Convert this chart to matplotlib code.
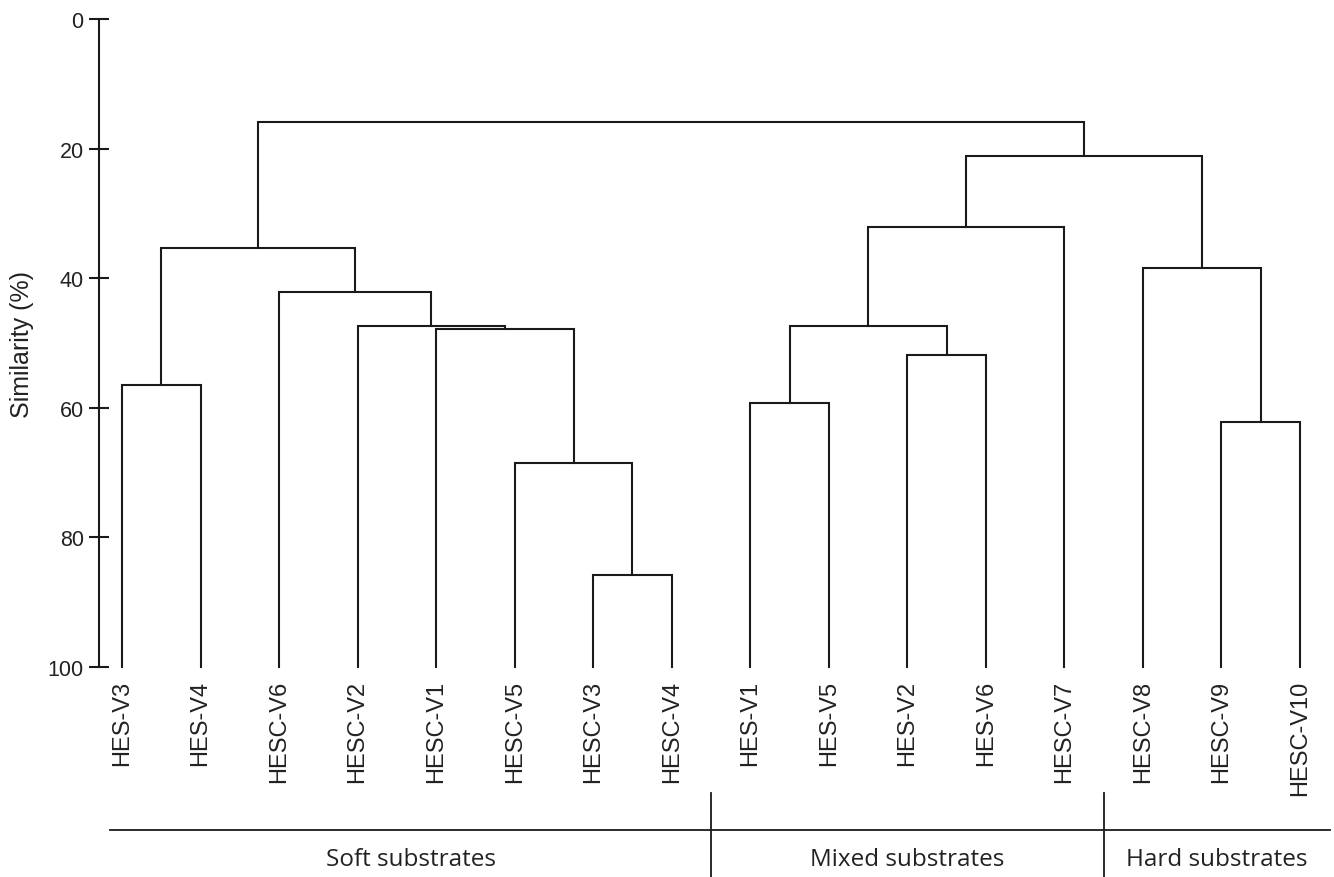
import matplotlib
matplotlib.use("Agg")
import matplotlib.pyplot as plt
import matplotlib.transforms as mtransforms

# leaf samples in dendrogram order
LEAVES = [
    "HES-V3", "HES-V4", "HESC-V6", "HESC-V2", "HESC-V1", "HESC-V5",
    "HESC-V3", "HESC-V4", "HES-V1", "HES-V5", "HES-V2", "HES-V6",
    "HESC-V7", "HESC-V8", "HESC-V9", "HESC-V10",
]

# merges: (child a, child b, similarity %); new nodes are numbered from 16 up
MERGE_A = [6, 5, 4, 3, 2, 0, 21, 8, 10, 23, 25, 14, 13, 26, 22]
MERGE_B = [7, 16, 17, 18, 19, 1, 20, 9, 11, 24, 12, 15, 27, 28, 29]
MERGE_SIM = [85.8, 68.5, 47.8, 47.4, 42.1, 56.5, 35.3, 59.3, 51.9, 47.4,
             32.1, 62.2, 38.4, 21.2, 15.9]

GROUPS = ["Soft substrates", "Mixed substrates", "Hard substrates"]
GROUP_EDGES = [-0.15, 7.5, 12.5, 15.38]

LINE = "#1a1a1a"
TEXT = "#222222"

W, H = 1334, 878
fig = plt.figure(figsize=(W / 100, H / 100), dpi=100)
fig.patch.set_facecolor("white")

spacing = 78.53
ax_left, ax_top, ax_bottom = 99, 20, 668
ax_right = 1330
ax = fig.add_axes([ax_left / W, 1 - ax_bottom / H,
                   (ax_right - ax_left) / W, (ax_bottom - ax_top) / H])
x_lo = -(122 - ax_left) / spacing
x_hi = 15 + (ax_right - 1300) / spacing
ax.set_xlim(x_lo, x_hi)
ax.set_ylim(100, 0)

# build the tree from the merge list
n = len(LEAVES)
pos = {i: float(i) for i in range(n)}
height = {i: 100.0 for i in range(n)}
for k, (a, b, h) in enumerate(zip(MERGE_A, MERGE_B, MERGE_SIM)):
    xa, xb = pos[a], pos[b]
    ax.plot([xa, xa, xb, xb], [height[a], h, h, height[b]],
            color=LINE, lw=1.5, solid_joinstyle="miter", clip_on=False)
    pos[n + k] = (xa + xb) / 2
    height[n + k] = h

for side in ["top", "right", "bottom"]:
    ax.spines[side].set_visible(False)
ax.spines["left"].set_linewidth(1.5)
ax.spines["left"].set_color(LINE)

ax.set_yticks([0, 20, 40, 60, 80, 100])
ax.tick_params(axis="y", direction="inout", length=14, width=1.5,
               color=LINE, pad=4, labelsize=15.5, labelcolor=TEXT)
for lab in ax.get_yticklabels():
    lab.set_fontfamily("Liberation Sans")

ax.set_xticks(range(n))
ax.set_xticklabels(LEAVES, rotation=90, fontsize=17, color=TEXT,
                   family="Liberation Sans")
ax.tick_params(axis="x", length=0, pad=9)

ax.set_ylabel("Similarity (%)", fontsize=18, color=TEXT,
              family="Liberation Sans")
ax.yaxis.set_label_coords((34 - ax_left) / (ax_right - ax_left), 0.5)

# substrate group bar under the leaf labels
trans = mtransforms.blended_transform_factory(ax.transData, fig.transFigure)
bar_y = 1 - 831 / H
ax.plot([GROUP_EDGES[0], GROUP_EDGES[-1]], [bar_y, bar_y], transform=trans,
        color=LINE, lw=1.3, clip_on=False)
for edge in GROUP_EDGES[1:-1]:
    ax.plot([edge, edge], [1 - 794 / H, 0], transform=trans,
            color=LINE, lw=1.3, clip_on=False)
for name, lo, hi in zip(GROUPS, GROUP_EDGES[:-1], GROUP_EDGES[1:]):
    ax.text((lo + hi) / 2, 1 - 860 / H, name, transform=trans,
            ha="center", va="center", fontsize=17.5, color=TEXT,
            family="Open Sans")

fig.savefig("out.png", dpi=100, facecolor="white")
